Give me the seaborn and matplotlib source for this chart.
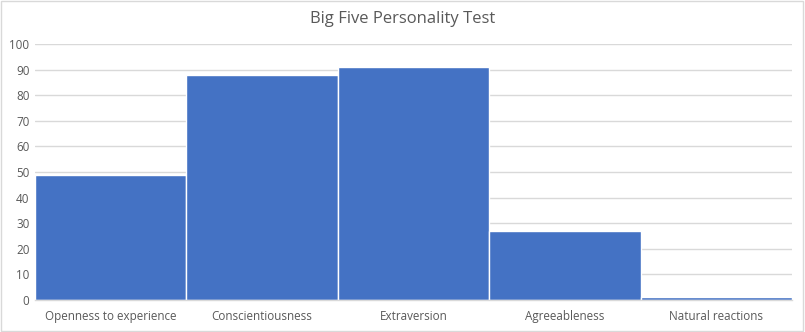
import matplotlib
matplotlib.use("Agg")
import matplotlib.pyplot as plt
import seaborn as sns
import pandas as pd

categories = ["Openness to experience", "Conscientiousness", "Extraversion", "Agreeableness", "Natural reactions"]
values = [49, 88, 91, 27, 1]
yticks = [0, 10, 20, 30, 40, 50, 60, 70, 80, 90, 100]

sns.set_theme(style="white")
plt.rcParams['font.family'] = ['Open Sans', 'DejaVu Sans']

df = pd.DataFrame({"trait": categories, "score": values})

fig = plt.figure(figsize=(8.05, 3.32), dpi=100)
ax = fig.add_axes([35/805, 32/332, (792-35)/805, (300-44)/332])

sns.barplot(data=df, x="trait", y="score", ax=ax, color="#4472C4", saturation=1,
            width=1.0, edgecolor="white", linewidth=1.0)

ax.set_ylim(0, 100)
ax.set_xlim(-0.5, len(categories) - 0.5)
ax.set_yticks(yticks)
ax.set_yticklabels([str(t) for t in yticks])
ax.set_xlabel("")
ax.set_ylabel("")
ax.yaxis.grid(True, color="#D9D9D9", linewidth=1)
ax.set_axisbelow(True)
for s in ["left", "right", "top"]:
    ax.spines[s].set_visible(False)
ax.spines["bottom"].set_color("#D9D9D9")
ax.spines["bottom"].set_linewidth(1)
ax.tick_params(axis="both", length=0, labelsize=8.4, colors="#595959", pad=4)
ax.tick_params(axis="x", pad=7)

fig.text(0.5, 1 - 19/332, "Big Five Personality Test", ha="center", va="center",
         fontsize=12, color="#595959")

# chart border
fig.patches.append(plt.Rectangle((0.001, 0.002), 0.997, 0.995, transform=fig.transFigure,
                                 fill=False, edgecolor="#D9D9D9", linewidth=1))

fig.savefig("out.png", dpi=100)
